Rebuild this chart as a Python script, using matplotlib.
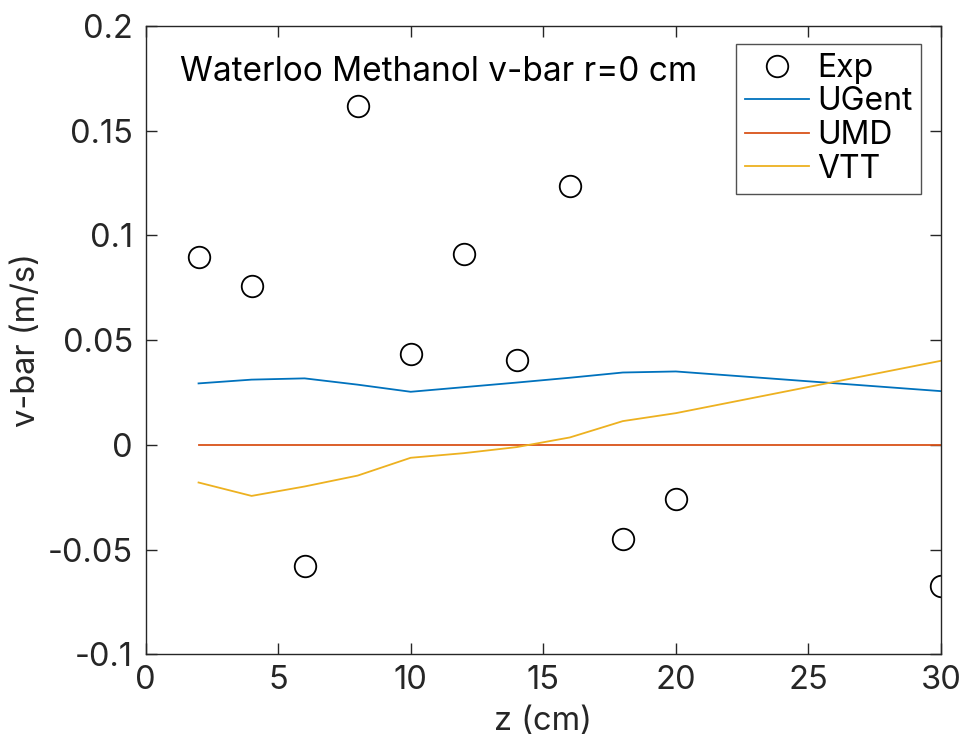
import numpy as np
import matplotlib
matplotlib.use("Agg")
import matplotlib.pyplot as plt

plt.rcParams['font.family'] = ['Inter', 'DejaVu Sans']

# experimental points
z_exp = [2, 4, 6, 8, 10, 12, 14, 16, 18, 20, 30]
v_exp = [0.0896, 0.0757, -0.058, 0.1617, 0.0432, 0.0912, 0.0405, 0.1233, -0.0452, -0.0258, -0.0672]

# model predictions
z_mod = [2, 4, 6, 8, 10, 12, 14, 16, 18, 20, 30]
v_ugent = [0.0293, 0.0311, 0.0317, 0.0287, 0.0253, 0.0275, 0.0297, 0.0320, 0.0345, 0.0350, 0.0256]
v_umd = [0.0, 0.0, 0.0, 0.0, 0.0, 0.0, 0.0, 0.0, 0.0, 0.0, 0.0]
v_vtt = [-0.018, -0.0244, -0.0199, -0.0147, -0.0062, -0.004, -0.0011, 0.0035, 0.0113, 0.0151, 0.0401]

fig = plt.figure(figsize=(9.63, 7.36), dpi=100)
ax = fig.add_axes([0.1511, 0.111, 0.8261, 0.854])

ax.plot(z_exp, v_exp, 'o', ms=15.5, mfc='none', mec='black', mew=1.3, label='Exp')
ax.plot(z_mod, v_ugent, color='#0072BD', lw=1.3, label='UGent')
ax.plot(z_mod, v_umd, color='#D95319', lw=1.3, label='UMD')
ax.plot(z_mod, v_vtt, color='#EDB120', lw=1.3, label='VTT')

ax.set_xlim(0, 30)
ax.set_ylim(-0.1, 0.2)
ax.set_xticks([0, 5, 10, 15, 20, 25, 30])
ax.set_yticks([-0.1, -0.05, 0, 0.05, 0.1, 0.15, 0.2])
ax.set_yticklabels(['-0.1', '-0.05', '0', '0.05', '0.1', '0.15', '0.2'])
ax.tick_params(direction='in', length=8, width=1, labelsize=23.5, top=True, right=True,
               colors='#262626', labelcolor='#262626')
ax.tick_params(axis='y', pad=9)
ax.tick_params(axis='x', pad=8)
for sp in ax.spines.values():
    sp.set_color('#262626')
    sp.set_linewidth(1)

ax.set_xlabel('z (cm)', fontsize=23.5, color='#262626', labelpad=7)
ax.set_ylabel('v-bar (m/s)', fontsize=23.5, color='#262626', labelpad=4)

ax.text(1.3, 0.178, 'Waterloo Methanol v-bar r=0 cm', fontsize=24, color='black', va='center')

leg = ax.legend(loc='upper right', bbox_to_anchor=(0.975, 0.971), fontsize=23,
                frameon=True, fancybox=False, edgecolor='#262626', handlelength=2.0,
                handletextpad=0.25, labelspacing=0.08, borderpad=0.28, borderaxespad=0)
leg.get_frame().set_linewidth(1)

fig.savefig('out.png', dpi=100)
